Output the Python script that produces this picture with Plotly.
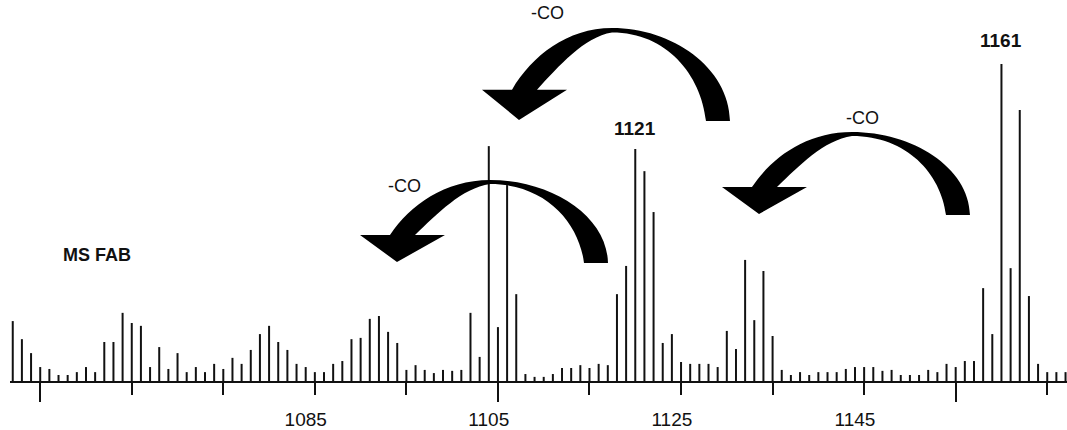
import plotly.graph_objects as go

# ---------------- data ----------------
mz = [1053, 1054, 1055, 1056, 1057, 1058, 1059, 1060, 1061, 1062,
      1063, 1064, 1065, 1066, 1067, 1068, 1069, 1070, 1071, 1072,
      1073, 1074, 1075, 1076, 1077, 1078, 1079, 1080, 1081, 1082,
      1083, 1084, 1085, 1086, 1087, 1088, 1089, 1090, 1091, 1092,
      1093, 1094, 1095, 1096, 1097, 1098, 1099, 1100, 1101, 1102,
      1103, 1104, 1105, 1106, 1107, 1108, 1109, 1110, 1111, 1112,
      1113, 1114, 1115, 1116, 1117, 1118, 1119, 1120, 1121, 1122,
      1123, 1124, 1125, 1126, 1127, 1128, 1129, 1130, 1131, 1132,
      1133, 1134, 1135, 1136, 1137, 1138, 1139, 1140, 1141, 1142,
      1143, 1144, 1145, 1146, 1147, 1148, 1149, 1150, 1151, 1152,
      1153, 1154, 1155, 1156, 1157, 1158, 1159, 1160, 1161, 1162,
      1163, 1164, 1165, 1166, 1167, 1168]

intensity = [18.9, 13.2, 8.8, 4.4, 3.8, 1.9, 1.9, 2.8, 4.4, 2.8,
             12.3, 12.3, 21.5, 18.3, 17.4, 4.4, 10.7, 3.8, 8.8, 2.8,
             4.4, 2.8, 5.4, 3.8, 7.3, 5.4, 9.8, 14.8, 17.4, 12.3,
             9.8, 5.4, 4.4, 2.8, 2.8, 5.4, 6.3, 13.2, 13.6, 19.6,
             20.5, 15.5, 12.0, 3.5, 5.0, 3.5, 2.5, 3.5, 3.2, 3.5,
             21.5, 7.6, 74.1, 17.0, 61.8, 27.4, 2.2, 1.3, 1.3, 2.2,
             4.1, 4.1, 5.0, 4.1, 5.4, 5.0, 27.4, 36.3, 73.2, 66.2,
             53.3, 12.0, 14.8, 6.0, 5.4, 5.4, 5.4, 4.4, 15.8, 10.1,
             38.2, 19.2, 34.7, 14.2, 3.5, 1.9, 2.8, 1.9, 2.8, 2.8,
             2.8, 3.8, 4.4, 4.4, 4.4, 3.2, 3.5, 1.9, 1.9, 1.9,
             3.5, 2.8, 5.4, 4.4, 6.3, 6.3, 29.3, 14.8, 100.0, 35.6,
             85.5, 26.8, 5.4, 2.8, 2.8, 2.8]

label_vals = [1085, 1105, 1125, 1145]
label_text = ["1085", "1105", "1125", "1145"]
minor_tick_vals = [1066, 1076, 1086, 1096, 1116, 1126, 1136, 1146, 1166]
major_tick_vals = [1056, 1106, 1156]
peak_labels = [1121, 1161]
loss_label = "-CO"
method_label = "MS FAB"

# ---------------- layout geometry ----------------
W, H = 1067, 430
ML, MR, MT, MB = 10, 0, 0, 49
PW, PH = W - ML - MR, H - MT - MB
X_RANGE = [1052.70, 1168.16]
Y_RANGE = [0, 120.2]
FONT = "Liberation Sans, Arial, Helvetica, sans-serif"
INK = "#111111"


def paper(px, py):
    return (px - ML) / PW, (MT + PH - py) / PH


# sticks drawn as vertical line segments through the axes
xs, ys = [], []
for m, v in zip(mz, intensity):
    xs += [m, m, None]
    ys += [0, v, None]

fig = go.Figure()
fig.add_trace(go.Scatter(x=xs, y=ys, mode="lines",
                         line=dict(color=INK, width=2),
                         hoverinfo="skip", showlegend=False))
fig.add_trace(go.Scatter(x=[None], y=[None], xaxis="x2", yaxis="y",
                         mode="markers", showlegend=False, hoverinfo="skip"))

# ---------------- curved "-CO" arrows (decoration) ----------------
base_arrow = [
    ("M", [(390, 235)]),
    ("C", [(410, 205), (445, 180), (490, 180)]),
    ("C", [(550, 180), (607, 215), (608, 263)]),
    ("L", [(584, 263)]),
    ("C", [(579, 222), (545, 184), (490, 184)]),
    ("C", [(462, 188), (437, 214), (415, 235)]),
    ("L", [(445, 235)]),
    ("L", [(397, 262)]),
    ("L", [(360, 235)]),
]
TAIL_Y = 263
# (dx, dy, vertical stretch about the tail level)
arrow_placements = [(0, 0, 1.0), (122, -142, 1.12), (362, -48, 1.0)]

shapes = []
for dx, dy, sy in arrow_placements:
    parts = []
    for cmd, pts in base_arrow:
        coords = " ".join(
            "%.5f,%.5f" % paper(x + dx, TAIL_Y + (y - TAIL_Y) * sy + dy) for x, y in pts)
        parts.append(cmd + " " + coords)
    path = " ".join(parts) + " Z"
    shapes.append(dict(type="path", path=path, xref="paper", yref="paper",
                       fillcolor="black", line=dict(width=0), layer="above"))

annotations = []
for px, py in [(547, 13), (404, 186), (862, 118)]:
    ax, ay = paper(px, py)
    annotations.append(dict(text=loss_label, x=ax, y=ay, xref="paper", yref="paper",
                            showarrow=False, xanchor="center", yanchor="middle",
                            font=dict(family=FONT, size=18, color=INK)))

mx, my = paper(97, 255)
annotations.append(dict(text="<b>%s</b>" % method_label, x=mx, y=my, xref="paper", yref="paper",
                        showarrow=False, xanchor="center", yanchor="middle",
                        font=dict(family=FONT, size=18, color=INK)))

for p, shift in zip(peak_labels, [8, 11]):
    annotations.append(dict(text="<b>%d</b>" % p, x=p, y=intensity[mz.index(p)],
                            xref="x", yref="y", showarrow=False,
                            xanchor="center", yanchor="bottom", yshift=shift,
                            font=dict(family=FONT, size=19, color=INK)))

fig.update_layout(
    width=W, height=H, autosize=False,
    margin=dict(l=ML, r=MR, t=MT, b=MB, pad=0),
    paper_bgcolor="white", plot_bgcolor="white",
    showlegend=False,
    shapes=shapes, annotations=annotations,
    xaxis=dict(range=X_RANGE, showline=True, linecolor=INK, linewidth=2,
               showgrid=False, zeroline=False, automargin=False,
               tickmode="array", tickvals=label_vals, ticktext=label_text,
               ticks="", ticklabelstandoff=20,
               tickfont=dict(family=FONT, size=19, color=INK),
               minor=dict(tickmode="array", tickvals=minor_tick_vals, ticks="outside",
                          ticklen=12, tickwidth=2, tickcolor=INK, showgrid=False)),
    xaxis2=dict(overlaying="x", matches="x", anchor="y", side="bottom",
                showline=False, showgrid=False, zeroline=False, automargin=False,
                tickmode="array", tickvals=major_tick_vals, ticks="outside",
                ticklen=20, tickwidth=2, tickcolor=INK, showticklabels=False),
    yaxis=dict(range=Y_RANGE, visible=False, showgrid=False, zeroline=False,
               automargin=False),
)

fig.write_html("out.html",
               config={"displayModeBar": False, "staticPlot": True},
               post_script="document.body.style.margin='0px';"
                           "document.body.style.overflow='hidden';")
